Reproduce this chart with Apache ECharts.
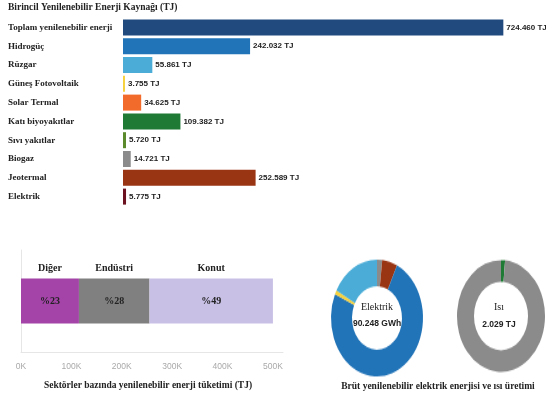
<!DOCTYPE html>
<html>
<head>
<meta charset="utf-8">
<script src="https://cdn.jsdelivr.net/npm/echarts@6/dist/echarts.min.js"></script>
<style>
  html, body { margin: 0; padding: 0; background: #fff; }
  #wrap { position: relative; width: 546px; height: 398px; overflow: hidden; }
  #main, #rings { position: absolute; left: 0; top: 0; width: 546px; height: 398px; }
  /* the two rings are drawn slightly taller than wide */
  #rings { transform: scaleY(1.27); transform-origin: 0 318px; pointer-events: none; }
</style>
</head>
<body>
<div id="wrap">
  <div id="main"></div>
  <div id="rings"></div>
</div>
<script>
// Primary renewable energy sources (TJ)
const sourceNames = [
  'Toplam yenilenebilir enerji', 'Hidrogüç', 'Rüzgar', 'Güneş Fotovoltaik', 'Solar Termal',
  'Katı biyoyakıtlar', 'Sıvı yakıtlar', 'Biogaz', 'Jeotermal', 'Elektrik'
];
const sourceValues = [724460, 242032, 55861, 3755, 34625, 109382, 5720, 14721, 252589, 5775];

// Renewable consumption by sector (TJ)
const sectorNames = ['Diğer', 'Endüstri', 'Konut'];
const sectorValues = [115000, 140000, 245000];
const sectorTicks = ['0K', '100K', '200K', '300K', '400K', '500K'];

// Gross renewable electricity (GWh) and heat (TJ) output
const elecNames = ['Biogaz', 'Jeotermal', 'Hidrogüç', 'Güneş Fotovoltaik', 'Rüzgar'];
const elecValues = [1638, 4819, 67231, 1043, 15517];
const heatNames = ['Katı biyoyakıtlar', 'Biogaz'];
const heatValues = [30, 1999];

// styling
const sourceColors = ['#214a7e', '#2274b8', '#4badd7', '#f6d23e', '#f26b2b',
  '#1f7a35', '#5b8a2c', '#8b8b8b', '#9a3514', '#6b1120'];
const sectorColors = ['#a443a8', '#808080', '#c9c0e6'];
const elecColors = ['#8b8b8b', '#9a3514', '#2274b8', '#f6d23e', '#4badd7'];
const heatColors = ['#1f7a35', '#8b8b8b'];

const SERIF = "'Liberation Serif', 'Times New Roman', serif";
const SANS = "'Liberation Sans', Arial, sans-serif";
const INK = '#222';

const trNum = v => String(v).replace(/\B(?=(\d{3})+(?!\d))/g, '.');
const sum = a => a.reduce((s, v) => s + v, 0);
const sectorTotal = sum(sectorValues);

// stacked sector bar: one series per sector, plus a transparent twin stack carrying the names above
const sectorSeries = [];
sectorNames.forEach((name, i) => {
  sectorSeries.push({
    type: 'bar', name, stack: 'share', xAxisIndex: 1, yAxisIndex: 1,
    barWidth: 45, barGap: '-100%', silent: true,
    data: [sectorValues[i]],
    itemStyle: { color: sectorColors[i] },
    label: {
      show: true, position: 'inside', fontFamily: SERIF, fontWeight: 'bold', fontSize: 10, color: INK,
      formatter: p => '%' + Math.round(p.value / sectorTotal * 100)
    }
  });
});
sectorNames.forEach((name, i) => {
  sectorSeries.push({
    type: 'bar', name: name + ' ', stack: 'names', xAxisIndex: 1, yAxisIndex: 1,
    barWidth: 45, barGap: '-100%', silent: true,
    data: [sectorValues[i]],
    itemStyle: { color: 'rgba(0,0,0,0)' },
    label: {
      show: true, position: 'top', distance: 5, fontFamily: SERIF, fontWeight: 'bold', fontSize: 10, color: INK,
      formatter: () => name
    }
  });
});

const main = echarts.init(document.getElementById('main'));
main.setOption({
  animation: false,
  backgroundColor: '#fff',
  grid: [
    { left: 123, top: 18, width: 420, height: 188 },
    { left: 21, top: 250, width: 262, height: 102 }
  ],
  xAxis: [
    { gridIndex: 0, type: 'value', min: 0, max: 800000, show: false },
    {
      gridIndex: 1, type: 'value', min: 0, max: 520000, interval: 100000,
      axisLine: { show: true, lineStyle: { color: '#e6e6e6' } },
      axisTick: { show: false }, splitLine: { show: false },
      axisLabel: {
        showMaxLabel: false, margin: 10, color: '#a9a9a9', fontSize: 8.5, fontFamily: SANS,
        formatter: v => sectorTicks[Math.round(v / 100000)] || ''
      }
    }
  ],
  yAxis: [
    {
      gridIndex: 0, type: 'category', data: sourceNames, inverse: true,
      axisLine: { show: false }, axisTick: { show: false },
      axisLabel: { align: 'left', margin: 115, fontFamily: SERIF, fontWeight: 'bold', fontSize: 9, color: INK }
    },
    {
      gridIndex: 1, type: 'category', data: ['Tüketim'],
      axisLine: { show: true, lineStyle: { color: '#e6e6e6' } },
      axisTick: { show: false }, axisLabel: { show: false }
    }
  ],
  series: [
    {
      type: 'bar', xAxisIndex: 0, yAxisIndex: 0, barWidth: 16, silent: true,
      data: sourceValues.map((v, i) => ({ value: v, itemStyle: { color: sourceColors[i] } })),
      label: {
        show: true, position: 'right', distance: 3, fontFamily: SANS, fontWeight: 'bold',
        fontSize: 8, color: INK, formatter: p => trNum(p.value) + ' TJ'
      }
    },
    ...sectorSeries
  ],
  graphic: [
    { type: 'text', left: 8, top: 3, style: { text: 'Birincil Yenilenebilir Enerji Kaynağı (TJ)', fontFamily: SERIF, fontWeight: 'bold', fontSize: 9.5, fill: INK } },
    { type: 'text', x: 148, y: 386, style: { text: 'Sektörler bazında yenilenebilir enerji tüketimi (TJ)', textAlign: 'center', textVerticalAlign: 'middle', fontFamily: SERIF, fontWeight: 'bold', fontSize: 9.5, fill: INK } },
    { type: 'text', x: 438, y: 387, style: { text: 'Brüt yenilenebilir elektrik enerjisi ve ısı üretimi', textAlign: 'center', textVerticalAlign: 'middle', fontFamily: SERIF, fontWeight: 'bold', fontSize: 9.5, fill: INK } },
    { type: 'text', x: 377, y: 307, style: { text: 'Elektrik', textAlign: 'center', textVerticalAlign: 'middle', fontFamily: SERIF, fontSize: 10, fill: INK } },
    { type: 'text', x: 377, y: 324, style: { text: trNum(sum(elecValues)) + ' GWh', textAlign: 'center', textVerticalAlign: 'middle', fontFamily: SANS, fontWeight: 'bold', fontSize: 8.5, fill: INK } },
    { type: 'text', x: 499, y: 307, style: { text: 'Isı', textAlign: 'center', textVerticalAlign: 'middle', fontFamily: SERIF, fontSize: 10, fill: INK } },
    { type: 'text', x: 499, y: 325, style: { text: trNum(sum(heatValues)) + ' TJ', textAlign: 'center', textVerticalAlign: 'middle', fontFamily: SANS, fontWeight: 'bold', fontSize: 8.5, fill: INK } }
  ]
});

const rings = echarts.init(document.getElementById('rings'));
rings.setOption({
  animation: false,
  series: [
    {
      type: 'pie', center: [377, 318], radius: [25, 46], startAngle: 90, clockwise: true,
      silent: true, label: { show: false }, labelLine: { show: false },
      data: elecValues.map((v, i) => ({ name: elecNames[i], value: v, itemStyle: { color: elecColors[i] } }))
    },
    {
      type: 'pie', center: [501, 316.4], radius: [27, 44], startAngle: 90, clockwise: true,
      silent: true, label: { show: false }, labelLine: { show: false },
      data: heatValues.map((v, i) => ({ name: heatNames[i], value: v, itemStyle: { color: heatColors[i] } }))
    }
  ]
});
</script>
</body>
</html>
